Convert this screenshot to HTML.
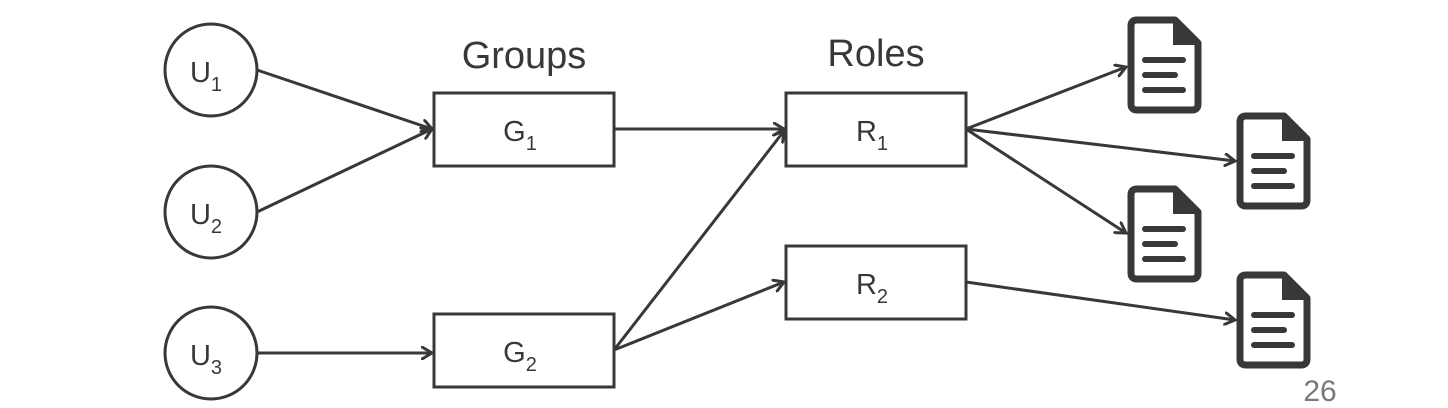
<!DOCTYPE html>
<html><head><meta charset="utf-8"><style>
html,body{margin:0;padding:0;background:#fff;width:1448px;height:408px;overflow:hidden}
svg{display:block;font-family:"Liberation Sans","DejaVu Sans",sans-serif}
</style></head><body>
<svg width="1448" height="408" viewBox="0 0 1448 408">
<defs>
<marker id="ah" markerWidth="14" markerHeight="14" refX="11" refY="7" orient="auto" markerUnits="userSpaceOnUse">
<path d="M1,1 L11,7 L1,13" fill="none" stroke="#383838" stroke-width="3" stroke-linecap="round"/>
</marker>
</defs>
<g stroke="#383838" stroke-width="3" fill="none">
<circle cx="211" cy="70" r="46"/>
<circle cx="211" cy="212" r="46"/>
<circle cx="211" cy="353" r="46"/>
<rect x="434" y="93" width="180" height="73"/>
<rect x="434" y="314" width="180" height="73"/>
<rect x="786" y="93" width="180" height="73"/>
<rect x="786" y="246" width="180" height="73"/>
</g>
<g stroke="#383838" stroke-width="3" fill="none" marker-end="url(#ah)">
<line x1="257" y1="70" x2="432" y2="129"/>
<line x1="257" y1="212" x2="432" y2="129"/>
<line x1="257" y1="353" x2="432" y2="353"/>
<line x1="614" y1="129" x2="784" y2="129"/>
<line x1="614" y1="350" x2="784" y2="131"/>
<line x1="614" y1="350" x2="784" y2="282"/>
<line x1="966" y1="129" x2="1126" y2="67"/>
<line x1="966" y1="129" x2="1235" y2="161"/>
<line x1="966" y1="129" x2="1126" y2="233"/>
<line x1="966" y1="282" x2="1235" y2="320"/>
</g>
<g fill="#383838" font-size="29" text-anchor="middle">
<text x="206" y="82">U<tspan font-size="20" dy="9">1</tspan></text>
<text x="206" y="224">U<tspan font-size="20" dy="9">2</tspan></text>
<text x="206" y="365">U<tspan font-size="20" dy="9">3</tspan></text>
<text x="520" y="141">G<tspan font-size="20" dy="9">1</tspan></text>
<text x="520" y="362">G<tspan font-size="20" dy="9">2</tspan></text>
<text x="872" y="141">R<tspan font-size="20" dy="9">1</tspan></text>
<text x="872" y="294">R<tspan font-size="20" dy="9">2</tspan></text>
</g>
<text x="524" y="68" font-size="38" fill="#383838" text-anchor="middle">Groups</text>
<text x="876" y="66" font-size="38" fill="#383838" text-anchor="middle">Roles</text>
<text x="1320" y="401" font-size="30" fill="#7a7a7a" text-anchor="middle">26</text>
<g id="docs">
<g transform="translate(1129,18)">
<path d="M8,2 H46 L69,25 V86 Q69,92 63,92 H8 Q2,92 2,86 V8 Q2,2 8,2 Z" fill="none" stroke="#383838" stroke-width="7" stroke-linejoin="round"/>
<path d="M44,2 L69,27 H44 Z" fill="#383838"/>
<g stroke="#383838" stroke-width="6" stroke-linecap="round"><line x1="16" y1="42" x2="54" y2="42"/><line x1="16" y1="57" x2="46" y2="57"/><line x1="16" y1="72" x2="54" y2="72"/></g>
</g>
<g transform="translate(1238,114)">
<path d="M8,2 H46 L69,25 V86 Q69,92 63,92 H8 Q2,92 2,86 V8 Q2,2 8,2 Z" fill="none" stroke="#383838" stroke-width="7" stroke-linejoin="round"/>
<path d="M44,2 L69,27 H44 Z" fill="#383838"/>
<g stroke="#383838" stroke-width="6" stroke-linecap="round"><line x1="16" y1="42" x2="54" y2="42"/><line x1="16" y1="57" x2="46" y2="57"/><line x1="16" y1="72" x2="54" y2="72"/></g>
</g>
<g transform="translate(1129,187)">
<path d="M8,2 H46 L69,25 V86 Q69,92 63,92 H8 Q2,92 2,86 V8 Q2,2 8,2 Z" fill="none" stroke="#383838" stroke-width="7" stroke-linejoin="round"/>
<path d="M44,2 L69,27 H44 Z" fill="#383838"/>
<g stroke="#383838" stroke-width="6" stroke-linecap="round"><line x1="16" y1="42" x2="54" y2="42"/><line x1="16" y1="57" x2="46" y2="57"/><line x1="16" y1="72" x2="54" y2="72"/></g>
</g>
<g transform="translate(1238,273)">
<path d="M8,2 H46 L69,25 V86 Q69,92 63,92 H8 Q2,92 2,86 V8 Q2,2 8,2 Z" fill="none" stroke="#383838" stroke-width="7" stroke-linejoin="round"/>
<path d="M44,2 L69,27 H44 Z" fill="#383838"/>
<g stroke="#383838" stroke-width="6" stroke-linecap="round"><line x1="16" y1="42" x2="54" y2="42"/><line x1="16" y1="57" x2="46" y2="57"/><line x1="16" y1="72" x2="54" y2="72"/></g>
</g>
</g>
</svg>
</body></html>
